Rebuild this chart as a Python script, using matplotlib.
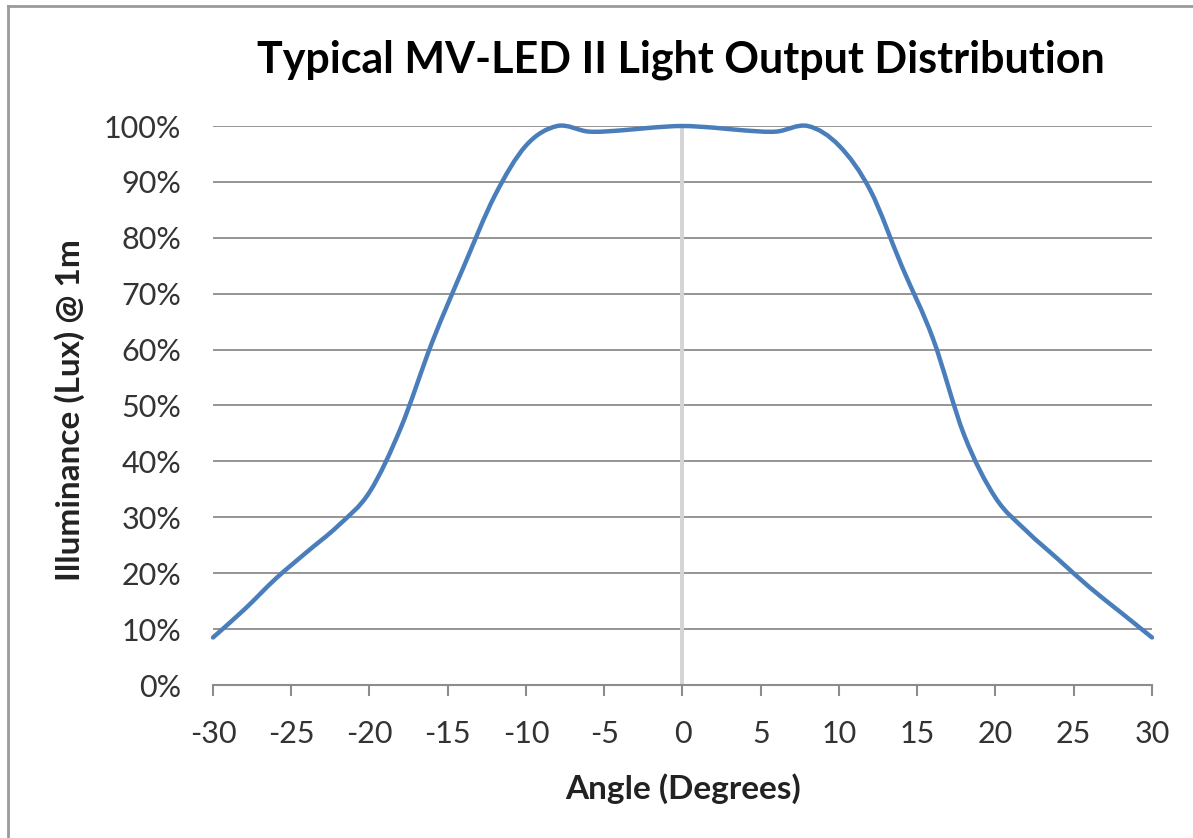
import matplotlib
matplotlib.use("Agg")
import matplotlib.pyplot as plt
from matplotlib.path import Path
from matplotlib.patches import PathPatch
from matplotlib.lines import Line2D
import numpy as np

# ---- data ----
angles = [-30, -28, -26, -24, -22, -20, -18, -16, -14, -12, -10, -8, -6, -4, -2,
          0, 2, 4, 6, 8, 10, 12, 14, 16, 18, 20, 22, 24, 26, 28, 30]
illuminance = [8.5, 13.5, 19.0, 23.8, 28.5, 34.5, 46.0, 61.3, 74.7, 87.5, 96.5, 100.0, 99.0, 99.2, 99.7,
               100.0, 99.7, 99.2, 99.0, 100.0, 96.5, 88.5, 75.0, 62.0, 44.7, 33.5, 27.5, 22.5, 17.5, 13.0, 8.5]
x_ticks = [-30, -25, -20, -15, -10, -5, 0, 5, 10, 15, 20, 25, 30]
y_ticks = [0, 10, 20, 30, 40, 50, 60, 70, 80, 90, 100]
title = "Typical MV-LED II Light Output Distribution"
x_label = "Angle (Degrees)"
y_label = "Illuminance (Lux) @ 1m"

FONT = "Lato"
W, H = 1193, 838
fig = plt.figure(figsize=(W / 100, H / 100), dpi=100)
fig.patch.set_facecolor("white")

left, right, top, bottom = 213, 1152, 126, 685
ax = fig.add_axes([left / W, 1 - bottom / H, (right - left) / W, (bottom - top) / H])
ax.set_xlim(-30, 30)
ax.set_ylim(0, 100)
ax.set_facecolor("white")

for s in ["left", "right", "top"]:
    ax.spines[s].set_visible(False)
ax.spines["bottom"].set_color("#8c8c8c")
ax.spines["bottom"].set_linewidth(1.5)

ax.set_yticks(y_ticks)
ax.set_yticklabels([f"{v}%" for v in y_ticks])
ax.set_xticks(x_ticks)
ax.set_xticklabels([str(v) for v in x_ticks])
ax.tick_params(axis="y", length=0, pad=23, labelsize=22, labelcolor="#333333")
ax.tick_params(axis="x", length=8, width=1.5, color="#8c8c8c", direction="out",
               pad=17, labelsize=22, labelcolor="#333333")
for lab in ax.get_xticklabels() + ax.get_yticklabels():
    lab.set_fontfamily(FONT)

# gridlines
for v in y_ticks[1:]:
    ax.axhline(v, color="#8c8c8c", lw=1.3, zorder=1)
# vertical zero axis
ax.axvline(0, color="#d4d4d4", lw=2.8, zorder=1)

# smoothed line (Bezier through data points, like spreadsheet smoothing)
pts = np.column_stack([angles, illuminance]).astype(float)
n = len(pts)
verts = [tuple(pts[0])]
codes = [Path.MOVETO]
for i in range(n - 1):
    p0 = pts[i - 1] if i > 0 else pts[i]
    p1 = pts[i]
    p2 = pts[i + 1]
    p3 = pts[i + 2] if i + 2 < n else pts[i + 1]
    c1 = p1 + (p2 - p0) / 6.0
    c2 = p2 - (p3 - p1) / 6.0
    verts += [tuple(c1), tuple(c2), tuple(p2)]
    codes += [Path.CURVE4, Path.CURVE4, Path.CURVE4]
patch = PathPatch(Path(verts, codes), facecolor="none", edgecolor="#4a7ebb",
                  lw=3.2, zorder=3, capstyle="round", joinstyle="round")
patch.set_clip_on(False)
ax.add_patch(patch)

fig.text(683 / W, 1 - 789 / H, x_label, ha="center", va="center",
         fontfamily=FONT, fontweight="bold", fontsize=24, color="#222222")
fig.text(70 / W, 1 - 410 / H, y_label, rotation=90, ha="center", va="center",
         fontfamily=FONT, fontweight="bold", fontsize=24, color="#222222")
fig.text(681 / W, 1 - 60 / H, title, ha="center", va="center",
         fontfamily=FONT, fontweight="bold", fontsize=31, color="black")

# outer border (top and left visible)
fig.add_artist(Line2D([8 / W, 8 / W], [0, 1 - 6 / H], transform=fig.transFigure,
                      color="#9a9a9a", lw=2))
fig.add_artist(Line2D([8 / W, 1], [1 - 6 / H, 1 - 6 / H], transform=fig.transFigure,
                      color="#9a9a9a", lw=2))

fig.savefig("out.png", dpi=100, facecolor="white")
